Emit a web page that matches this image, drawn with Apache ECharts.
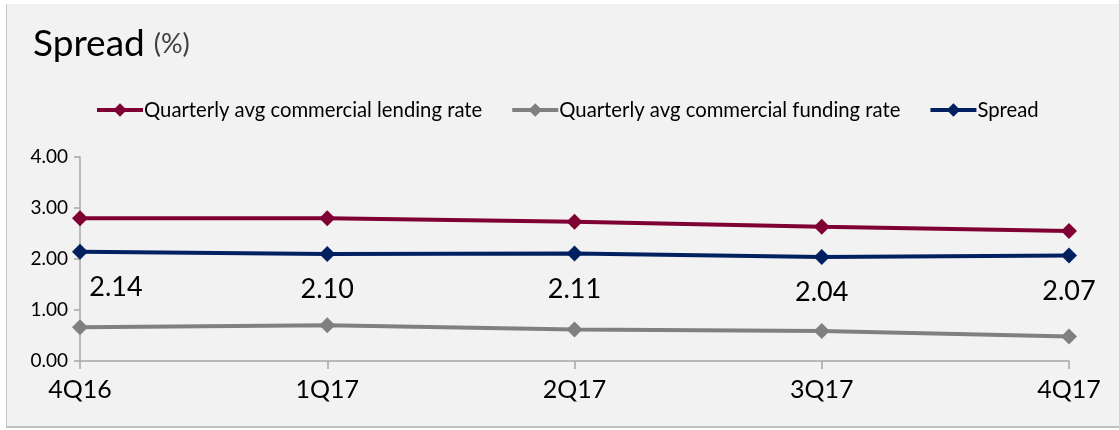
<!DOCTYPE html>
<html>
<head>
<meta charset="utf-8">
<script src="https://cdn.jsdelivr.net/npm/echarts@6/dist/echarts.min.js"></script>
<style>
html,body{margin:0;padding:0;background:#ffffff;}
#wrap{position:absolute;left:6px;top:4px;width:1113px;height:422px;background:#f2f2f2;border-left:1px solid #c8c8c8;border-bottom:2px solid #c0c0c0;}
#chart{position:absolute;left:-7px;top:-4px;width:1119px;height:430px;}
</style>
</head>
<body>
<div id="wrap"><div id="chart"></div></div>
<script>
var categories = ['4Q16', '1Q17', '2Q17', '3Q17', '4Q17'];
var lendingRate = [2.80, 2.80, 2.73, 2.63, 2.55];
var fundingRate = [0.66, 0.70, 0.62, 0.59, 0.48];
var spread = [2.14, 2.10, 2.11, 2.04, 2.07];
var yTicks = ['0.00', '1.00', '2.00', '3.00', '4.00'];

var chart = echarts.init(document.getElementById('chart'));
var font = 'Lato';
var spreadData = spread.map(function (v, i) {
  var d = { value: v };
  if (i === 0) d.label = { offset: [36, 0] };
  return d;
});
chart.setOption({
  backgroundColor: 'transparent',
  animation: false,
  textStyle: { fontFamily: font },
  title: {
    left: 28, top: 21,
    text: '{a|Spread}{b|(%)}',
    textStyle: {
      rich: {
        a: { fontFamily: font, fontSize: 37, fontWeight: 'normal', color: '#000000' },
        b: { fontFamily: font, fontSize: 27, fontWeight: 'normal', color: '#404040', padding: [0, 0, 0, 9] }
      }
    }
  },
  legend: {
    left: 90, top: 95,
    itemWidth: 46, itemHeight: 17, itemGap: 28,
    lineStyle: { width: 4 },
    textStyle: { fontFamily: font, fontSize: 20.3, color: '#000000', padding: [0, 0, 0, -4] },
    data: ['Quarterly avg commercial lending rate', 'Quarterly avg commercial funding rate', 'Spread']
  },
  grid: { left: 80, right: 50, top: 157, bottom: 69, containLabel: false },
  xAxis: {
    type: 'category', data: categories, boundaryGap: false,
    axisLine: { lineStyle: { color: '#a6a6a6', width: 1.5 } },
    axisTick: { show: true, length: 8, alignWithLabel: true, lineStyle: { color: '#a6a6a6', width: 1.5 } },
    axisLabel: { fontFamily: font, fontSize: 25, color: '#000000', margin: 16 }
  },
  yAxis: {
    type: 'value', min: 0, max: 4, interval: 1,
    axisLine: { show: true, lineStyle: { color: '#a6a6a6', width: 1.5 } },
    axisTick: { show: true, length: 6, lineStyle: { color: '#a6a6a6', width: 1.5 } },
    splitLine: { show: false },
    axisLabel: {
      fontFamily: font, fontSize: 19, color: '#000000', margin: 12,
      formatter: function (v) { return yTicks[Math.round(v)]; }
    }
  },
  series: [
    {
      name: 'Quarterly avg commercial lending rate', type: 'line', data: lendingRate,
      symbol: 'diamond', symbolSize: 16,
      lineStyle: { color: '#7f0033', width: 4 }, itemStyle: { color: '#7f0033' }
    },
    {
      name: 'Quarterly avg commercial funding rate', type: 'line', data: fundingRate,
      symbol: 'diamond', symbolSize: 16,
      lineStyle: { color: '#808080', width: 4 }, itemStyle: { color: '#808080' }
    },
    {
      name: 'Spread', type: 'line', data: spreadData,
      symbol: 'diamond', symbolSize: 16,
      lineStyle: { color: '#002060', width: 4 }, itemStyle: { color: '#002060' },
      label: {
        show: true, position: 'bottom', distance: 14,
        fontFamily: font, fontSize: 27, color: '#000000',
        formatter: function (p) { return p.value.toFixed(2); }
      }
    }
  ]
});
</script>
</body>
</html>
